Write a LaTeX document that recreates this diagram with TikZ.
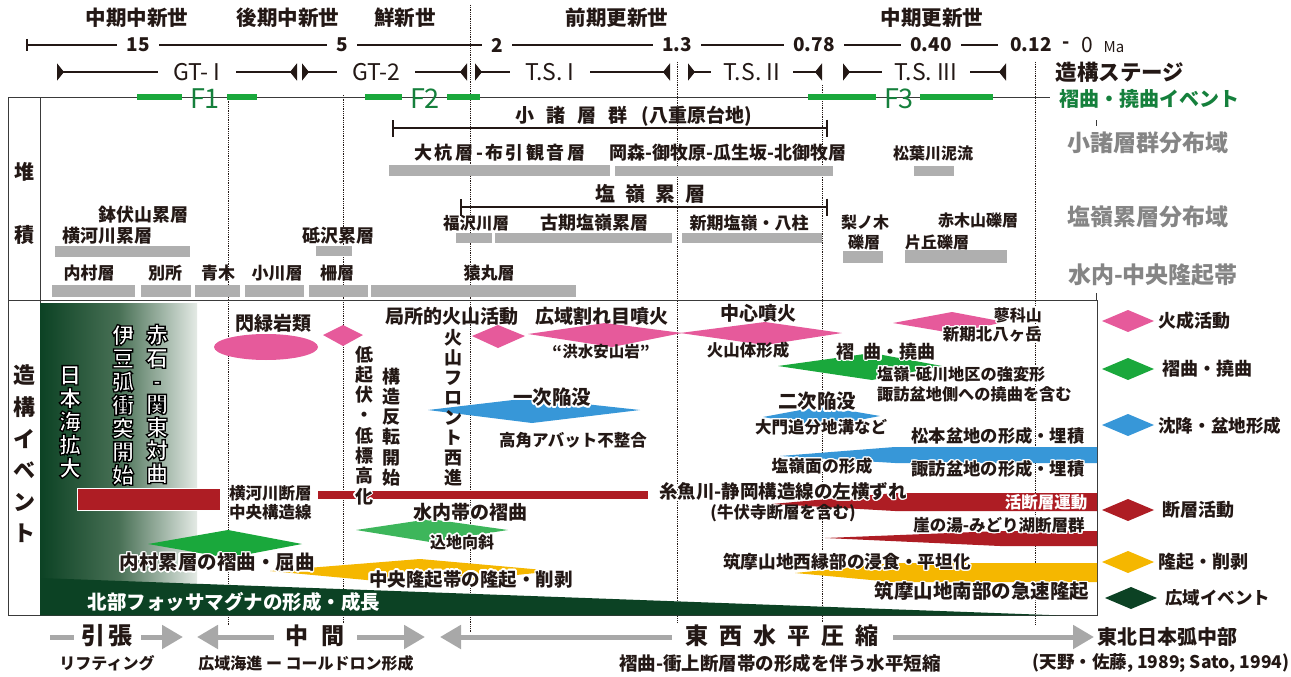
\documentclass[tikz,border=0pt]{standalone}
\usepackage{fontspec}
\setmainfont{Noto Sans CJK JP}
\usepackage[copies]{contour}
\contourlength{1.4pt}
\contournumber{16}
\usetikzlibrary{arrows.meta}
\definecolor{txt}{HTML}{231815}
\definecolor{pinkc}{HTML}{E65A9B}
\definecolor{grnc}{HTML}{1AA83C}
\definecolor{lgrnc}{HTML}{3DB65B}
\definecolor{bluec}{HTML}{3797D8}
\definecolor{redc}{HTML}{AE1D24}
\definecolor{yelc}{HTML}{F5B700}
\definecolor{dgrn}{HTML}{0C4224}
\definecolor{barg}{HTML}{AFAFAF}
\definecolor{labg}{HTML}{858585}
\definecolor{fgrn}{HTML}{15803C}
\definecolor{arrg}{HTML}{A8A8A8}
\definecolor{frm}{HTML}{3A3A3A}
\newcommand\fs[1]{\fontsize{#1}{#1}\selectfont}
\newcommand\hw[1]{\contour{white}{#1}}
\newcommand\outl[1]{\special{pdf:literal direct 0 0 0 RG 1.3 w 2 Tr}#1\special{pdf:literal direct 0 Tr}}
\newcommand\dmd[5]{\fill[#1] ({#2-#4},#3) -- (#2,{#3-#5}) -- ({#2+#4},#3) -- (#2,{#3+#5}) -- cycle;}
\begin{document}
\begin{tikzpicture}[x=1pt,y=-1pt,
 tx/.style={inner sep=0pt,text=txt,font=\bfseries\fs{#1}},
 rg/.style={inner sep=0pt,text=txt,font=\fs{#1}},
 vt/.style 2 args={inner sep=0pt,align=center,text=txt,font=\bfseries\fontsize{#1}{#2}\selectfont},
 gb/.style={fill=barg},
 dotl/.style={densely dotted,line width=0.8pt,txt},
 stg/.style={line width=2.8pt,txt,{Triangle[reversed,length=7pt,width=17pt]}-{Triangle[reversed,length=7pt,width=17pt]}},
 brk/.style={line width=2.4pt,txt,{Bar[width=17pt]}-{Bar[width=17pt]}},
 fbar/.style={line width=5pt,grnc},
 num/.style={fill=white,inner xsep=9pt,inner ysep=2pt,text=txt,font=\bfseries\fs{19}},
 stl/.style={fill=white,inner xsep=15pt,inner ysep=3pt,text=txt,font=\fs{23}},
 flab/.style={inner sep=0pt,text=fgrn,font=\fs{27}},
 glab/.style={inner sep=0pt,text=labg,font=\bfseries\fs{23}},
 barr/.style={line width=5pt,arrg},
 bl/.style={fill=white,inner xsep=8pt,inner ysep=2pt,text=txt,font=\bfseries\fs{#1}},
 frame/.style={line width=0.8pt,frm}
]
\fill[white] (0,0) rectangle (1291,677);
\useasboundingbox (0,0) rectangle (1291,677);

% ---------- dotted guide lines
\draw[dotl] (228,97) -- (228,625);
\draw[dotl] (343,95) -- (343,625);
\draw[dotl] (470,5) -- (470,632);
\draw[dotl] (677,62) -- (677,630);
\draw[dotl] (822,85) -- (822,630);
\draw[dotl] (1035,62) -- (1035,625);

% ---------- epochs
\node[tx=20.5] (ep1) at (137,18) {中期中新世};
\node[tx=20.5] (ep2) at (288,18) {後期中新世};
\node[tx=20.5] (ep3) at (405,18) {鮮新世};
\node[tx=20.5] (ep4) at (617,18) {前期更新世};
\node[tx=20.5] (ep5) at (932,18) {中期更新世};

% ---------- time line
\coordinate (tl0) at (27,45);
\coordinate (tl1) at (998,45);
\draw[line width=1.3pt,txt] (tl0) -- (tl1);
\draw[line width=1.3pt,txt] (27,39) -- (27,51);
\node[num] (t15) at (138,45) {15};
\node[num] (t5) at (342,45) {5};
\node[num] (t2) at (497,45) {2};
\node[num] (t13) at (677,45) {1.3};
\node[num] (t078) at (814,45) {0.78};
\node[num] (t040) at (931,45) {0.40};
\node[num] (t012) at (1031,45) {0.12};
\node[tx=19] (tdash) at (1066,45) {-};
\node[rg=21] (tzero) at (1087,45) {0};
\node[rg=15] (tma) at (1114,47) {Ma};

% ---------- stages
\draw[stg] (57,72) -- (297,72);
\node[stl] (gt1) at (197,72) {GT- I};
\draw[stg] (302,72) -- (467,72);
\node[stl] (gt2) at (376,72) {GT-2};
\draw[stg] (475,72) -- (670,72);
\node[stl] (ts1) at (550,72) {T.S. I};
\draw[stg] (688,72) -- (822,72);
\node[stl,inner xsep=13pt] (ts2) at (752,72) {T.S. II};
\draw[stg] (843,72) -- (1006,72);
\node[stl,inner xsep=13pt] (ts3) at (926,72) {T.S. III};
\node[tx=21.5] (stg) at (1120,72) {造構ステージ};

% ---------- fold events row
\draw[frame] (8,97) -- (1050,97);
\draw[fbar] (137,97) -- (182,97);
\draw[fbar] (227,97) -- (257,97);
\draw[fbar] (365,97) -- (402,97);
\draw[fbar] (447,97) -- (480,97);
\draw[fbar] (808,97) -- (876,97);
\draw[fbar] (920,97) -- (993,97);
\node[flab] (f1) at (205,99) {F1};
\node[flab] (f2) at (425,99) {F2};
\node[flab] (f3) at (899,99) {F3};
\node[inner sep=0pt,text=fgrn,font=\bfseries\fs{20}] (fev) at (1149,99) {褶曲・撓曲イベント};

% ---------- frame
\draw[frame] (8,97) -- (8,615) -- (40,615);
\draw[frame] (40,97) -- (40,615);
\draw[frame] (8,300) -- (1097,300) -- (1097,615) -- (40,615);
\draw[frame] (1096,120) -- (1096,126);
\draw[frame] (1096,293) -- (1096,300);

% ---------- deposition
\node[tx=20] (dep1) at (24,172) {堆};
\node[tx=20] (dep2) at (24,235) {積};

\draw[brk] (392,128) -- (828,128);
\node[tx=19] (komoro) at (634,116) {小\hspace{12pt}諸\hspace{12pt}層\hspace{12pt}群\hspace{14pt}(八重原台地)};
\node[tx=18] (ookui) at (500,153) {\addfontfeature{LetterSpace=14}大杭層-布引観音層};
\fill[gb] (389,165) rectangle (610,176);
\node[tx=18] (okamori) at (728,153) {岡森-御牧原-瓜生坂-北御牧層};
\fill[gb] (615,166) rectangle (833,176);
\node[tx=16] (matsuba) at (933,153) {松葉川泥流};
\fill[gb] (914,166) rectangle (954,176);

\draw[brk] (460,207) -- (828,207);
\node[tx=20] (shiomine) at (650,194) {塩\hspace{10pt}嶺\hspace{10pt}累\hspace{10pt}層};
\node[tx=16.5] (fukusawa) at (476,223) {福沢川層};
\fill[gb] (456,233) rectangle (492,243);
\node[tx=18] (koki) at (594,223) {古期塩嶺累層};
\fill[gb] (495,233) rectangle (672,243);
\node[tx=17] (shinki) at (749,223) {新期塩嶺・八柱};
\fill[gb] (682,233) rectangle (822,243);
\node[tx=16] (nashi1) at (865,222) {梨ノ木};
\node[tx=16] (nashi2) at (864,242) {礫層};
\fill[gb] (843,251) rectangle (883,263);
\node[tx=16] (akagi) at (978,220) {赤木山礫層};
\node[tx=16] (kataoka) at (937,242) {片丘礫層};
\fill[gb] (905,250) rectangle (1007,263);

\node[tx=18] (hachibuse) at (143,215) {鉢伏山累層};
\node[tx=18] (yokokawa) at (107,236) {横河川累層};
\fill[gb] (55,246) rectangle (190,257);
\node[tx=18] (tozawa) at (338,236) {砥沢累層};
\fill[gb] (316,246) rectangle (352,256);

\node[tx=17] (uchimura) at (89,273) {内村層};
\node[tx=17] (bessho) at (165,273) {別所};
\node[tx=17] (aoki) at (218,273) {青木};
\node[tx=17] (ogawa) at (277,273) {小川層};
\node[tx=17] (saku) at (337,273) {柵層};
\node[tx=17] (saru) at (489,273) {猿丸層};
\fill[gb] (52,285) rectangle (135,297);
\fill[gb] (141,285) rectangle (191,297);
\fill[gb] (195,285) rectangle (240,297);
\fill[gb] (245,285) rectangle (304,297);
\fill[gb] (309,285) rectangle (368,297);
\fill[gb] (371,285) rectangle (576,297);

\node[glab] (rl1) at (1148,143) {小諸層群分布域};
\node[glab] (rl2) at (1148,217) {塩嶺累層分布域};
\node[glab] (rl3) at (1153,275) {水内-中央隆起帯};

% ---------- tectonic events: background
\shade[left color=dgrn,right color={rgb,255:red,228;green,234;blue,229},middle color={rgb,255:red,72;green,112;blue,85}] (40,303) rectangle (197,582);
\fill[dgrn] (40,578) -- (1060,615.4) -- (40,615.4) -- cycle;

\node[vt={22}{31.6}] (zoko) at (24,454) {造\\構\\イ\\ベ\\ン\\ト};

% pink (volcanic)
\fill[pinkc] (266,347) ellipse [x radius=52, y radius=13];
\fill[pinkc] (323,335) -- (343,325) -- (363,335) -- (343,346) -- cycle;
\fill[pinkc] (472,336) -- (498,325) -- (525,336) -- (498,348) -- cycle;
\fill[pinkc] (528,334) -- (605,323) -- (682,333) -- (612,347) -- cycle;
\fill[pinkc] (680,333) -- (765,322) -- (842,333) -- (765,345) -- cycle;
\fill[pinkc] (893,323) -- (952,312) -- (1005,322) -- (952,333) -- cycle;

% green (fold)
\fill[grnc] (778,366) -- (872,353) -- (942,366) -- (872,380) -- cycle;
\fill[grnc] (148,544) -- (228,530) -- (302,544) -- (228,558) -- cycle;
\fill[lgrnc] (356,530) -- (430,519) -- (508,530) -- (430,542) -- cycle;

% blue (subsidence)
\fill[bluec] (428,410) -- (530,398) -- (640,410) -- (532,423) -- cycle;
\fill[bluec] (763,417) -- (822,406) -- (880,416) -- (822,427) -- cycle;
\fill[bluec] (780,456) -- (895,447) -- (1097,447) -- (1097,463) -- (895,463) -- cycle;

% red (faults)
\filldraw[fill=redc,draw=white,line width=1pt] (77,488) rectangle (220,510);
\fill[redc] (318,491) rectangle (648,499);
\fill[redc] (772,504) -- (895,493) -- (1097,493) -- (1097,511) -- (895,511) -- cycle;
\fill[redc] (825,538) -- (1000,531) -- (1097,531) -- (1097,546) -- (1000,546) -- cycle;

% yellow (uplift)
\fill[yelc] (270,571) -- (420,559) -- (555,571) -- (420,585) -- cycle;
\fill[yelc] (795,573) -- (893,563) -- (1097,563) -- (1097,582) -- (893,582) -- cycle;

% ---------- event labels
\node[tx=19] (senryoku) at (273,323) {閃緑岩類};
\node[tx=19] (kyokusho) at (452,316) {局所的火山活動};
\node[tx=19] (koiki) at (602,316) {広域割れ目噴火};
\node[tx=15.5] (kozui) at (601,352) {“洪水安山岩”};
\node[tx=19] (chushin) at (758,313) {中心噴火};
\node[tx=16.5] (kazantai) at (748,350) {火山体形成};
\node[tx=16,anchor=east] (tateshina) at (1042,316) {\hw{蓼科山}};
\node[tx=16.5,anchor=east] (kitayatsu) at (1042,335) {\hw{新期北八ヶ岳}};
\node[tx=18] (shukyoku) at (886,352) {\hw{褶\hspace{10pt}曲・撓曲}};
\node[tx=16.2,anchor=west,align=left,font=\bfseries\fontsize{16.2}{20}\selectfont] (shiotoga) at (877,385) {\hw{塩嶺-砥川地区の強変形}\\\hw{諏訪盆地側への撓曲を含む}};

\node[tx=19.5] (ichiji) at (552,398) {\hw{一次陥没}};
\node[tx=16.5] (kokaku) at (573,440) {高角アバット不整合};
\node[tx=19.5] (niji) at (817,402) {\hw{二次陥没}};
\node[tx=16.5] (daimon) at (821,428) {\hw{大門追分地溝など}};
\node[tx=17.3] (matsumoto) at (998,437) {\hw{松本盆地の形成・埋積}};
\node[tx=16.8] (shiomen) at (822,467) {\hw{塩嶺面の形成}};
\node[tx=17.3] (suwa) at (998,470) {\hw{諏訪盆地の形成・埋積}};

\node[tx=16.5,anchor=west,align=left,font=\bfseries\fontsize{16.5}{19}\selectfont] (yokodan) at (229,503) {横河川断層\\中央構造線};
\node[vt={18}{20.3}] (teikifuku) at (364,426) {低\\起\\伏\\・\\低\\標\\高\\\hw{化}};
\node[vt={18}{20.3}] (kozohanten) at (391,427) {構\\造\\反\\転\\開\\始};
\node[vt={18}{20}] (kazanfront) at (453,408) {火\\山\\フ\\ロ\\ン\\ト\\西\\進};
\node[tx=18.5] (itoigawa) at (783,492) {\hw{糸魚川-静岡構造線の左横ずれ}};
\node[tx=16.5] (gofukuji) at (783,513) {(牛伏寺断層を含む)};
\node[tx=16.5,text=white] (katsudanso) at (1046,502) {活断層運動};
\node[tx=16.5] (gakenoyu) at (999,526) {\hw{崖の湯-みどり湖断層群}};

\node[tx=19] (minochi) at (470,513) {\hw{水内帯の褶曲}};
\node[tx=16] (komeji) at (462,543) {\hw{込地向斜}};
\node[tx=19.5] (uchimurashu) at (217,563) {\hw{内村累層の褶曲・屈曲}};
\node[tx=18.5] (chuoryuki) at (471,580) {\hw{中央隆起帯の隆起・削剥}};
\node[tx=17.7] (chikuma1) at (847,562) {\hw{筑摩山地西縁部の浸食・平坦化}};
\node[tx=19.5] (chikuma2) at (982,592) {\hw{筑摩山地南部の急速隆起}};
\node[tx=19.5,text=white] (fossa) at (234,602) {北部フォッサマグナの形成・成長};

% ---------- legend
\dmd{pinkc}{1128}{321}{26}{11}
\dmd{grnc}{1128}{369}{26}{11}
\dmd{bluec}{1128}{425}{26}{11}
\dmd{redc}{1128}{510}{26}{11}
\dmd{yelc}{1128}{562}{26}{11}
\dmd{dgrn}{1131}{598}{26}{11}
\node[tx=18,anchor=west] (lg1) at (1158,321) {火成活動};
\node[tx=18,anchor=west] (lg2) at (1162,369) {褶曲・撓曲};
\node[tx=17.6,anchor=west] (lg3) at (1158,426) {沈降・盆地形成};
\node[tx=18,anchor=west] (lg4) at (1162,510) {断層活動};
\node[tx=18,anchor=west] (lg5) at (1158,562) {隆起・削剥};
\node[tx=17.5,anchor=west] (lg6) at (1165,598) {広域イベント};

% ---------- bottom regimes
\draw[barr,-{Triangle[length=21pt,width=23pt]}] (50,637) -- (183,637);
\node[bl=24] (hiccho) at (107,636) {引\hspace{3pt}張};
\draw[barr,{Triangle[length=21pt,width=23pt]}-{Triangle[length=21pt,width=23pt]}] (197,637) -- (425,637);
\node[bl=23,inner xsep=12pt] (chukan) at (315,636) {中\hspace{13pt}間};
\draw[barr,{Triangle[length=21pt,width=23pt]}-{Triangle[length=21pt,width=23pt]}] (440,637) -- (1094,637);
\node[bl=23,inner xsep=14pt] (tozai) at (782,636) {東\hspace{11pt}西\hspace{11pt}水\hspace{11pt}平\hspace{11pt}圧\hspace{11pt}縮};
\node[tx=20] (tohoku) at (1167,637) {東北日本弧中部};

\node[tx=16] (rifting) at (107,663) {リフティング};
\node[tx=16] (kaishin) at (306,663) {広域海進 ー コールドロン形成};
\node[tx=18.5] (shukusho) at (780,663) {褶曲-衝上断層帯の形成を伴う水平短縮};
\node[tx=17.5] (ref) at (1161,663) {(天野・佐藤, 1989; Sato, 1994)};

% ---------- outlined white vertical texts in the gradient box
\node[vt={22}{23.3},text=white] (nihonkai) at (70,422) {\outl{日}\\\outl{本}\\\outl{海}\\\outl{拡}\\\outl{大}};
\node[vt={22}{23.3},text=white] (izu) at (123,405) {\outl{伊}\\\outl{豆}\\\outl{弧}\\\outl{衝}\\\outl{突}\\\outl{開}\\\outl{始}};
\node[vt={22}{23.1},text=white] (akaishi) at (157,404) {\outl{赤}\\\outl{石}\\\outl{-}\\\outl{関}\\\outl{東}\\\outl{対}\\\outl{曲}};
\end{tikzpicture}
\end{document}
